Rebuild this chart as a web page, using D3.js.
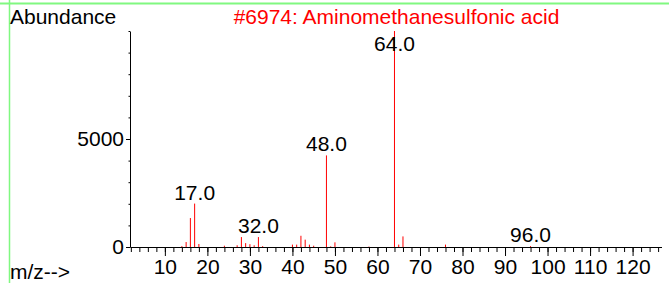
<!DOCTYPE html>
<html>
<head>
<meta charset="utf-8">
<script src="https://cdn.jsdelivr.net/npm/d3@7"></script>
<style>
  body { margin: 0; background: #fff; }
  svg { display: block; font-family: "Liberation Sans", Arial, sans-serif; }
  .axis path, .axis line { stroke: #000; }
  .axis text { fill: #000; font-size: 21px; }
</style>
</head>
<body>
<div id="chart"></div>
<script>
// Mass spectrum - Aminomethanesulfonic acid
const title = '#6974: Aminomethanesulfonic acid';
const mz = [14, 15, 16, 17, 18, 24, 27, 28, 29, 30, 31, 32, 33, 40, 41, 42, 43, 44, 45, 48, 49, 50, 58, 64, 65, 66, 76, 96];
const abundance = [40, 230, 1340, 2010, 140, 60, 80, 460, 180, 130, 80, 460, 40, 110, 110, 520, 340, 110, 60, 4240, 30, 215, 20, 9999, 110, 490, 110, 40];
const labeledMz = [17, 32, 48, 64, 96];
const xMajorTicks = [10, 20, 30, 40, 50, 60, 70, 80, 90, 100, 110, 120];
const yMajorTicks = [0, 5000];

const W = 669, H = 283;
const svg = d3.select('#chart')
    .append('svg')
    .attr('width', W)
    .attr('height', H);

// Scales
const x = d3.scaleLinear().domain([1.8, 126.8]).range([130, 661.5]);
const y = d3.scaleLinear().domain([0, 10000]).range([247, 31]);

// Green frame
svg.append('line')
    .attr('x1', 0).attr('x2', W)
    .attr('y1', 3.5).attr('y2', 3.5)
    .attr('stroke', '#80f880')
    .attr('stroke-width', 2);
svg.append('line')
    .attr('x1', 9.5).attr('x2', 9.5)
    .attr('y1', 0).attr('y2', H)
    .attr('stroke', '#80f880')
    .attr('stroke-width', 1.5);

// Peaks
svg.selectAll('.peak')
    .data(mz)
    .enter()
    .append('line')
    .attr('class', 'peak')
    .attr('x1', d => x(d))
    .attr('x2', d => x(d))
    .attr('y1', y(0))
    .attr('y2', (d, i) => y(abundance[i]))
    .attr('stroke', '#ff0000')
    .attr('stroke-width', 1);

// X axis - minor ticks every 2
svg.append('g')
    .attr('class', 'axis')
    .attr('transform', `translate(0,${y(0)})`)
    .call(d3.axisBottom(x)
        .tickValues(d3.range(2, 127, 2))
        .tickSize(5)
        .tickSizeOuter(0)
        .tickFormat(''));

// X axis - major ticks every 10
svg.append('g')
    .attr('class', 'axis')
    .attr('transform', `translate(0,${y(0)})`)
    .call(d3.axisBottom(x)
        .tickValues(xMajorTicks)
        .tickSize(9)
        .tickSizeOuter(0)
        .tickPadding(3))
    .call(g => g.select('.domain').remove());

// Y axis - minor ticks
svg.append('g')
    .attr('class', 'axis')
    .attr('transform', `translate(${x.range()[0]},0)`)
    .call(d3.axisLeft(y)
        .tickValues(d3.range(0, 10001, 1000))
        .tickSize(1.5)
        .tickSizeOuter(0)
        .tickFormat(''));

// Y axis - major ticks
svg.append('g')
    .attr('class', 'axis')
    .attr('transform', `translate(${x.range()[0]},0)`)
    .call(d3.axisLeft(y)
        .tickValues(yMajorTicks)
        .tickSize(4)
        .tickSizeOuter(0)
        .tickPadding(2)
        .tickFormat(d3.format('d')))
    .call(g => g.select('.domain').remove());

// Peak labels
svg.selectAll('.peak-label')
    .data(labeledMz)
    .enter()
    .append('text')
    .attr('class', 'peak-label')
    .attr('x', d => x(d))
    .attr('y', d => Math.max(y(abundance[mz.indexOf(d)]) - 4, 51))
    .attr('text-anchor', 'middle')
    .style('font-size', '21px')
    .style('fill', '#000')
    .text(d => d.toFixed(1));

// Titles
svg.append('text')
    .attr('x', 10)
    .attr('y', 24)
    .style('font-size', '21px')
    .style('fill', '#000')
    .text('Abundance');

svg.append('text')
    .attr('x', 396.5)
    .attr('y', 24)
    .attr('text-anchor', 'middle')
    .style('font-size', '21px')
    .style('fill', '#ff0000')
    .text(title);

svg.append('text')
    .attr('x', 10)
    .attr('y', 279)
    .style('font-size', '21px')
    .style('fill', '#000')
    .text('m/z-->');
</script>
</body>
</html>
